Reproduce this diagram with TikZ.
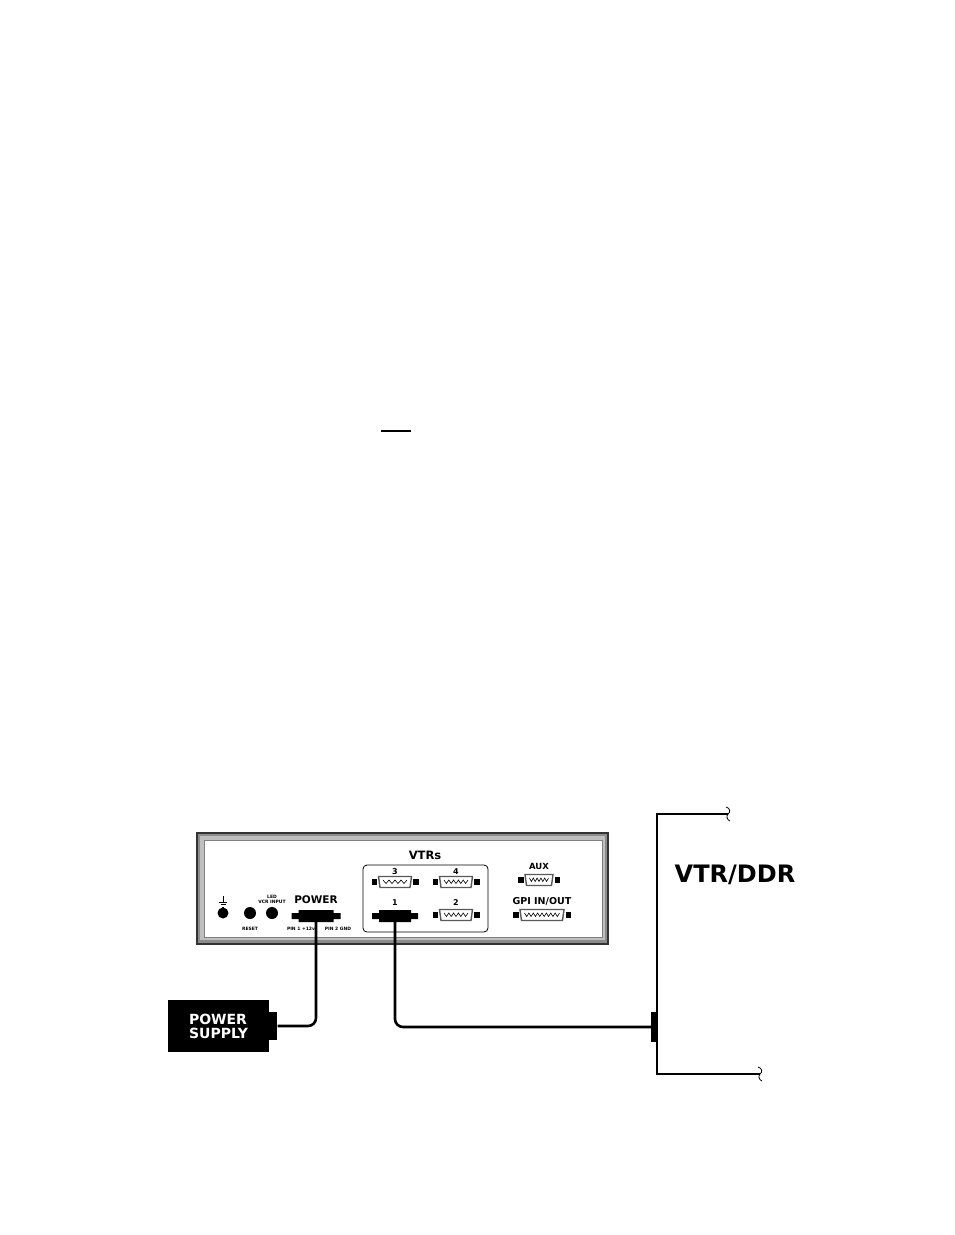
\documentclass[tikz,border=0pt]{standalone}
\usepackage{fontspec}
\setmainfont{DejaVu Sans}
\usetikzlibrary{positioning}

\begin{document}
\begin{tikzpicture}[x=1pt,y=-1pt]

\tikzset{
  cable/.style={line width=2.6pt, rounded corners=8pt},
  jack/.style={circle, fill=black, inner sep=0pt, minimum size=#1},
  jack/.default=11pt,
  lbl/.style={font=\bfseries\fontsize{#1}{#1}\selectfont, inner sep=0pt},
  lbl/.default=8,
  tiny/.style={font=\bfseries\fontsize{4.5}{5}\selectfont, inner sep=0pt, align=center},
  psu/.style={fill=black, text=white, minimum width=101pt, minimum height=52pt,
    align=left, font=\bfseries\fontsize{14}{14}\selectfont},
  pics/dsub/.style 2 args={code={
    \fill (-#1-7,-3) rectangle (-#1-1.5,3);
    \fill (#1+1.5,-3) rectangle (#1+7,3);
    \draw[line width=1.4pt, draw=black!65, fill=white]
      (-#1,-5.5) -- (#1,-5.5) -- (#1-1.5,5.5) -- (-#1+1.5,5.5) -- cycle;
    \pgfmathsetmacro\zstep{(2*#1-9)/#2/2}
    \draw[line width=0.6pt] (-#1+4.5,-2)
      \foreach \k in {1,...,#2} {-- ++(\zstep,3.5) -- ++(\zstep,-3.5)};
  }},
  pics/blackconn/.style={code={
    \fill (-#1-7,-3) -- (-#1,-3) -- (-#1,-6) -- (#1,-6) -- (#1,-3) -- (#1+7,-3)
      -- (#1+7,3) -- (#1,3) -- (#1,6) -- (-#1,6) -- (-#1,3) -- (-#1-7,3) -- cycle;
  }}
}

\useasboundingbox (0,0) rectangle (954,1235);

% stray mark
\draw[line width=1.8pt] (381,431) -- (411,431);

% front panel
\draw[line width=1.2pt, draw=black!80, fill=black!45] (197,833) rectangle (608,944);
\fill[black!25] (200,836) rectangle (605,940);
\draw[draw=black!50, line width=0.6pt, fill=white] (204,840) rectangle (602,937);

% ground, reset, led
\draw[line width=0.9pt] (223,896) -- (223,902) (219,902) -- (227,902)
  (220.5,904.5) -- (225.5,904.5) (222,907) -- (224,907);
\node[jack] (gnd) at (223,913) {};
\node[jack=12pt] (reset) at (250,913) {};
\node[jack=12pt] (led) at (272,913) {};
\node[tiny] at (250,929) {RESET};
\node[tiny] at (272,899) {LED\\VCR INPUT};

% power connector
\node[lbl=10.5] (powerlbl) at (316,900) {POWER};
\coordinate (pwrconn) at (316,916);
\pic at (pwrconn) {blackconn=17.5};
\node[tiny] at (301,929) {PIN 1 +12v};
\node[tiny] at (338,929) {PIN 2 GND};

% VTR ports
\node[lbl=11.5] (vtrslbl) at (425,855) {VTRs};
\draw[line width=0.8pt, rounded corners=4pt] (363,865) rectangle (488,932);
\node[lbl] at (395,872) {3};
\node[lbl] at (456,872) {4};
\node[lbl] at (395,903) {1};
\node[lbl] at (456,903) {2};
\pic at (395,882) {dsub={16.5}{4}};
\pic at (456,882) {dsub={16.5}{5}};
\pic at (456,915) {dsub={16.5}{5}};
\coordinate (vtr1) at (395,916);
\pic at (vtr1) {blackconn=16};

% aux and gpi
\node[lbl=8.5] (auxlbl) at (539,866) {AUX};
\pic at (539,880) {dsub={14}{5}};
\node[lbl=9.5] (gpilbl) at (542,901) {GPI IN/OUT};
\pic at (542,915) {dsub={22}{8}};

% power supply
\node[psu] (psu) at (218.5,1026) {POWER\\SUPPLY};
\node[fill, minimum width=8pt, minimum height=28pt, inner sep=0pt, right=0pt of psu] (psutab) {};

% VTR/DDR
\coordinate (vtrtop) at (657,814);
\coordinate (vtrbot) at (657,1074);
\coordinate (topend) at (728,814);
\coordinate (botend) at (760,1074);
\draw[line width=1.6pt] (topend) -- (vtrtop) -- (vtrbot) -- (botend);
\draw[line width=0.8pt] (726,807) .. controls (730,808) and (731,812) .. (728,814)
  .. controls (726,816) and (727,820) .. (730,821);
\draw[line width=0.8pt] (758,1067) .. controls (762,1068) and (763,1072) .. (760,1074)
  .. controls (758,1076) and (759,1080) .. (762,1081);
\node[fill, minimum width=6pt, minimum height=30pt, inner sep=0pt] (vtrtab) at (654,1027) {};
\node[lbl=24] (vtrname) at (735,875) {VTR/DDR};

% cables
\draw[cable] (pwrconn) |- (psutab.east);
\draw[cable] (vtr1) |- (vtrtab.west);

\end{tikzpicture}
\end{document}
